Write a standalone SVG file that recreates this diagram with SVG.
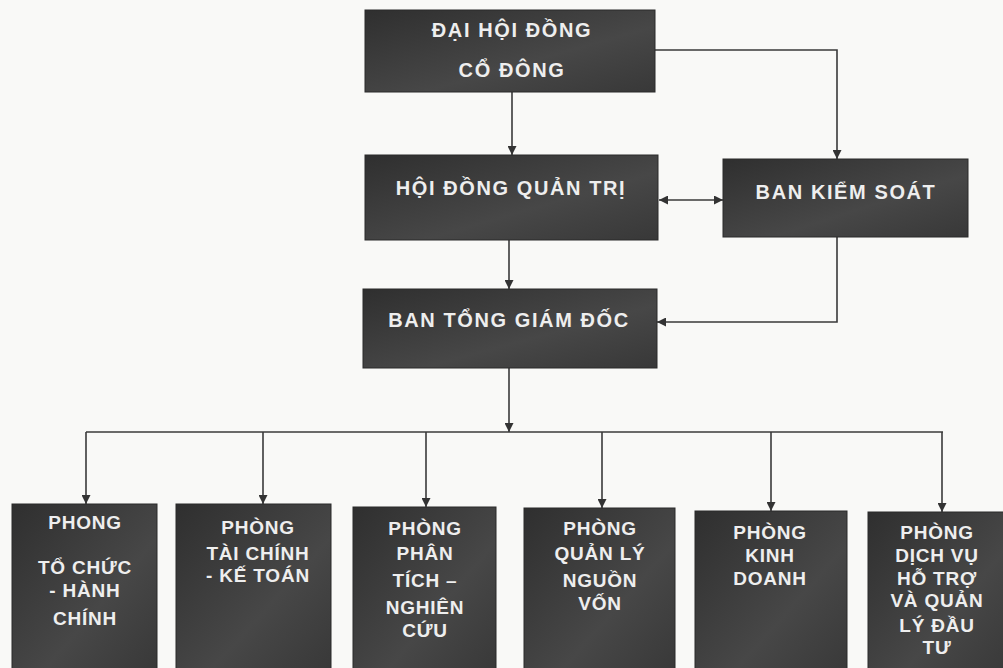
<svg xmlns="http://www.w3.org/2000/svg" width="1003" height="668" viewBox="0 0 1003 668">
<style>
.box{fill:url(#g);stroke:#2a2a2a;stroke-width:1}
.t{font-family:"Liberation Sans",Arial,sans-serif;font-weight:bold;fill:#eeeeee;text-anchor:middle;font-size:20px;letter-spacing:1.6px}
.s{font-size:19px;letter-spacing:0.8px}
.c{fill:none;stroke:#3a3a3a;stroke-width:1.6}
</style>
<defs>
<linearGradient id="g" x1="0" y1="0" x2="1" y2="1">
<stop offset="0" stop-color="#2f2f2f"/>
<stop offset="0.6" stop-color="#474747"/>
<stop offset="1" stop-color="#383838"/>
</linearGradient>
<marker id="a" viewBox="0 0 10 10" refX="10" refY="5" markerWidth="9" markerHeight="9" markerUnits="userSpaceOnUse" orient="auto-start-reverse">
<path d="M0,0 L10,5 L0,10 z" fill="#333"/>
</marker>
</defs>
<rect width="1003" height="668" fill="#f9f9f7"/>
<g id="connectors">
<path class="c" d="M512,92 V155" marker-end="url(#a)"/>
<path class="c" d="M655,50 H837 V159" marker-end="url(#a)"/>
<path class="c" d="M659,200 H723" marker-start="url(#a)" marker-end="url(#a)"/>
<path class="c" d="M509,240 V289" marker-end="url(#a)"/>
<path class="c" d="M837,237 V322 H657" marker-end="url(#a)"/>
<path class="c" d="M509,368 V432"  marker-end="url(#a)"/>
<path class="c" d="M86,432 H943"/>
<path class="c" d="M86,432 V504" marker-end="url(#a)"/>
<path class="c" d="M263,432 V504" marker-end="url(#a)"/>
<path class="c" d="M426,432 V507" marker-end="url(#a)"/>
<path class="c" d="M602,432 V508" marker-end="url(#a)"/>
<path class="c" d="M771,432 V511" marker-end="url(#a)"/>
<path class="c" d="M942,432 V512" marker-end="url(#a)"/>
</g>
<g id="dhdcd">
<rect class="box" x="365" y="10" width="290" height="82"/>
<text class="t" x="512" y="37">ĐẠI HỘI ĐỒNG</text>
<text class="t" x="512" y="77">CỔ ĐÔNG</text>
</g>
<g id="hdqt">
<rect class="box" x="365" y="155" width="293" height="85"/>
<text class="t" x="511" y="195">HỘI ĐỒNG QUẢN TRỊ</text>
</g>
<g id="bks">
<rect class="box" x="723" y="159" width="245" height="78"/>
<text class="t" x="846" y="199">BAN KIỂM SOÁT</text>
</g>
<g id="btgd">
<rect class="box" x="363" y="289" width="294" height="79"/>
<text class="t" x="509" y="327">BAN TỔNG GIÁM ĐỐC</text>
</g>
<g id="p1">
<rect class="box" x="12" y="504" width="145" height="170"/>
<text class="t s" x="85" y="529">PHONG</text>
<text class="t s" x="85" y="574">TỔ CHỨC</text>
<text class="t s" x="85" y="597">- HÀNH</text>
<text class="t s" x="85" y="625">CHÍNH</text>
</g>
<g id="p2">
<rect class="box" x="176" y="504" width="155" height="170"/>
<text class="t s" x="258" y="534">PHÒNG</text>
<text class="t s" x="258" y="560">TÀI CHÍNH</text>
<text class="t s" x="258" y="582">- KẾ TOÁN</text>
</g>
<g id="p3">
<rect class="box" x="353" y="507" width="143" height="170"/>
<text class="t s" x="425" y="535">PHÒNG</text>
<text class="t s" x="425" y="560">PHÂN</text>
<text class="t s" x="425" y="587">TÍCH –</text>
<text class="t s" x="425" y="614">NGHIÊN</text>
<text class="t s" x="425" y="637">CỨU</text>
</g>
<g id="p4">
<rect class="box" x="524" y="508" width="151" height="170"/>
<text class="t s" x="600" y="535">PHÒNG</text>
<text class="t s" x="600" y="560">QUẢN LÝ</text>
<text class="t s" x="600" y="587">NGUỒN</text>
<text class="t s" x="600" y="610">VỐN</text>
</g>
<g id="p5">
<rect class="box" x="695" y="511" width="152" height="170"/>
<text class="t s" x="770" y="539">PHÒNG</text>
<text class="t s" x="770" y="562">KINH</text>
<text class="t s" x="770" y="585">DOANH</text>
</g>
<g id="p6">
<rect class="box" x="868" y="512" width="140" height="170"/>
<text class="t s" x="937" y="539">PHÒNG</text>
<text class="t s" x="937" y="562">DỊCH VỤ</text>
<text class="t s" x="937" y="585">HỖ TRỢ</text>
<text class="t s" x="937" y="607">VÀ QUẢN</text>
<text class="t s" x="937" y="632">LÝ ĐẦU</text>
<text class="t s" x="937" y="654">TƯ</text>
</g>
</svg>
